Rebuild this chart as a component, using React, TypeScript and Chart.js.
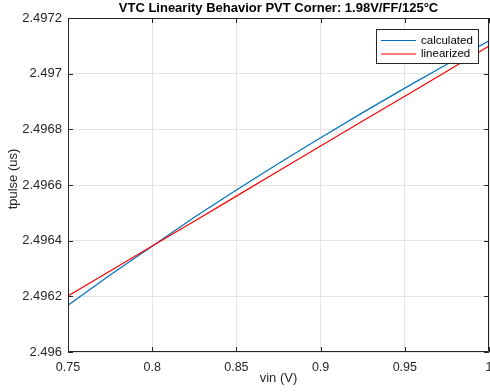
import React, { useEffect, useRef } from "react";
import { Chart, registerables } from "chart.js";

Chart.register(...registerables);

const titleText = "VTC Linearity Behavior PVT Corner: 1.98V/FF/125°C";
const xLabel = "vin (V)";
const yLabel = "tpulse (us)";
const vin = [0.75, 0.775, 0.8, 0.825, 0.85, 0.875, 0.9, 0.925, 0.95, 0.975, 1.0];
const calculated = [2.496168, 2.496277, 2.49638, 2.496484, 2.496582, 2.496677, 2.49677, 2.49686, 2.496948, 2.497034, 2.497118];
const linearized = [2.496201, 2.496291, 2.496381, 2.49647, 2.49656, 2.49665, 2.49674, 2.49683, 2.496919, 2.497009, 2.497099];
const seriesNames = ["calculated", "linearized"];
const seriesColors = ["#0072BD", "#FF0000"];
const xTicks = [0.75, 0.8, 0.85, 0.9, 0.95, 1];
const yTicks = [2.496, 2.4962, 2.4964, 2.4966, 2.4968, 2.497, 2.4972];

const FONT = "'Liberation Sans', Arial, Helvetica, sans-serif";
const TEXT = "#262626";

const decorPlugin = {
  id: "decor",
  afterDraw(chart: any) {
    const ctx = chart.ctx as CanvasRenderingContext2D;
    const a = chart.chartArea;
    const xs = chart.scales.x;
    const ys = chart.scales.y;
    ctx.save();
    // box
    ctx.strokeStyle = TEXT;
    ctx.lineWidth = 1;
    ctx.beginPath();
    ctx.rect(a.left + 0.5, a.top + 0.5, a.right - a.left - 1, a.bottom - a.top - 1);
    ctx.stroke();
    // inward ticks
    const tl = 5;
    ctx.beginPath();
    xTicks.forEach((v) => {
      const px = Math.round(xs.getPixelForValue(v)) + 0.5;
      ctx.moveTo(px, a.bottom);
      ctx.lineTo(px, a.bottom - tl);
      ctx.moveTo(px, a.top);
      ctx.lineTo(px, a.top + tl);
    });
    yTicks.forEach((v) => {
      const py = Math.round(ys.getPixelForValue(v)) + 0.5;
      ctx.moveTo(a.left, py);
      ctx.lineTo(a.left + tl, py);
      ctx.moveTo(a.right, py);
      ctx.lineTo(a.right - tl, py);
    });
    ctx.stroke();
    // title
    ctx.fillStyle = "#000";
    ctx.font = `bold 13px ${FONT}`;
    ctx.textAlign = "center";
    ctx.textBaseline = "middle";
    ctx.fillText(titleText, (a.left + a.right) / 2, 8.5);
    // y axis title
    ctx.save();
    ctx.translate(13, 179);
    ctx.rotate(-Math.PI / 2);
    ctx.fillStyle = TEXT;
    ctx.font = `13px ${FONT}`;
    ctx.fillText(yLabel, 0, 0);
    ctx.restore();
    // legend
    const bx = 376, by = 29, bw = 103, bh = 35;
    ctx.fillStyle = "#fff";
    ctx.fillRect(bx, by, bw, bh);
    ctx.strokeStyle = TEXT;
    ctx.strokeRect(bx + 0.5, by + 0.5, bw - 1, bh - 1);
    ctx.font = `11.5px ${FONT}`;
    ctx.textAlign = "left";
    ctx.textBaseline = "middle";
    const rows = [40.5, 54];
    seriesNames.forEach((n, i) => {
      ctx.strokeStyle = seriesColors[i];
      ctx.lineWidth = 1.2;
      ctx.beginPath();
      ctx.moveTo(381, rows[i]);
      ctx.lineTo(416, rows[i]);
      ctx.stroke();
      ctx.fillStyle = "#000";
      ctx.fillText(n, 421, rows[i]);
    });
    ctx.restore();
  },
};

export default function App() {
  const ref = useRef<HTMLCanvasElement | null>(null);
  useEffect(() => {
    if (!ref.current) return;
    const chart = new Chart(ref.current, {
      type: "line",
      data: {
        datasets: [
          {
            label: seriesNames[0],
            data: vin.map((x, i) => ({ x, y: calculated[i] })),
            borderColor: seriesColors[0],
            borderWidth: 1.2,
            pointRadius: 0,
            tension: 0,
            order: 1,
          },
          {
            label: seriesNames[1],
            data: vin.map((x, i) => ({ x, y: linearized[i] })),
            borderColor: seriesColors[1],
            borderWidth: 1.2,
            pointRadius: 0,
            tension: 0,
            order: 0,
          },
        ],
      },
      options: {
        animation: false,
        responsive: false,
        layout: { padding: { top: 18, left: 0, right: 1, bottom: 0 } },
        plugins: { legend: { display: false }, title: { display: false }, tooltip: { enabled: false } },
        scales: {
          x: {
            type: "linear",
            min: 0.75,
            max: 1,
            afterBuildTicks: (s: any) => {
              s.ticks = xTicks.map((v) => ({ value: v }));
            },
            afterFit: (s: any) => {
              s.height = 40;
              s.paddingLeft = 0;
              s.paddingRight = 0;
            },
            ticks: {
              padding: 8,
              maxRotation: 0,
              autoSkip: false,
              color: TEXT,
              font: { family: FONT, size: 12.5 },
              callback: (v: any) => String(+Number(v).toFixed(2)),
            },
            grid: { color: "#e3e3e3", drawTicks: false },
            border: { display: false },
            title: {
              display: true,
              text: xLabel,
              color: TEXT,
              font: { family: FONT, size: 13 },
              padding: { top: 0, bottom: 6 },
            },
          },
          y: {
            type: "linear",
            min: 2.496,
            max: 2.4972,
            afterBuildTicks: (s: any) => {
              s.ticks = yTicks.map((v) => ({ value: v }));
            },
            afterFit: (s: any) => {
              s.width = 68;
              s.paddingTop = 0;
              s.paddingBottom = 0;
            },
            ticks: {
              padding: 6,
              autoSkip: false,
              color: TEXT,
              font: { family: FONT, size: 13 },
              callback: (v: any) => String(+Number(v).toFixed(4)),
            },
            grid: { color: "#e3e3e3", drawTicks: false },
            border: { display: false },
            title: { display: false },
          },
        },
      },
      plugins: [decorPlugin],
    } as any);
    return () => chart.destroy();
  }, []);
  return (
    <div style={{ position: "fixed", left: 0, top: 0, width: 490, height: 392, background: "#fff" }}>
      <canvas ref={ref} width={490} height={392} style={{ display: "block" }} />
    </div>
  );
}
